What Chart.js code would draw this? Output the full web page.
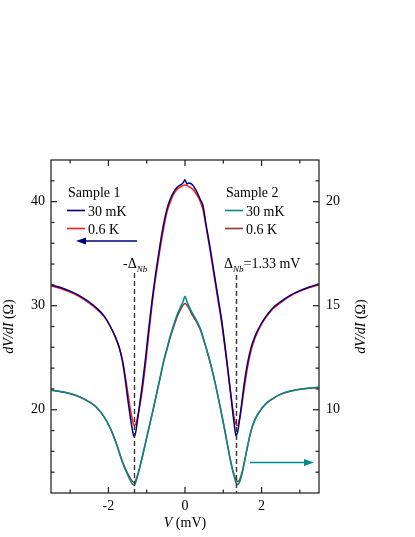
<!DOCTYPE html>
<html><head><meta charset="utf-8">
<script src="https://cdn.jsdelivr.net/npm/chart.js@4.4.1/dist/chart.umd.min.js"></script>
<style>html,body{margin:0;padding:0;background:#fff}#wrap{position:relative;width:415px;height:537px}</style>
</head><body><div id="wrap"><canvas id="c"></canvas></div>
<script>
// ---- data ----
const voltage = [-3.5,-3.25,-3.0,-2.75,-2.5,-2.3,-2.1,-1.95,-1.82,-1.72,-1.63,-1.55,-1.48,-1.42,-1.37,-1.33,-1.29,-1.24,-1.17,-1.1,-1.03,-0.95,-0.85,-0.75,-0.65,-0.55,-0.47,-0.4,-0.3,-0.2,-0.1,-0.05,
  0,
  0.05,0.1,0.2,0.3,0.4,0.47,0.55,0.65,0.75,0.85,0.95,1.03,1.1,1.17,1.24,1.29,1.33,1.37,1.42,1.48,1.55,1.63,1.72,1.82,1.95,2.1,2.3,2.5,2.75,3.0,3.25,3.5];

const sample1_30mK = [32.0,31.75,31.4,30.95,30.35,29.75,28.95,28.0,27.0,26.0,24.6,22.6,20.6,19.1,18.0,17.4,17.8,19.0,20.9,22.8,25.0,27.7,30.8,33.5,35.9,38.0,39.3,40.1,40.9,41.4,41.65,41.8,
  42.1,
  41.7,41.8,41.6,41.0,40.2,39.6,37.8,35.7,33.4,31.1,28.8,26.6,24.5,22.3,20.0,18.5,17.5,17.8,18.9,20.6,22.6,24.4,25.9,27.0,28.0,28.9,29.8,30.4,31.0,31.45,31.8,32.1];

const sample1_06K = [31.9,31.65,31.3,30.85,30.25,29.65,28.9,28.0,27.0,26.0,24.7,23.0,21.3,19.9,19.0,18.5,18.6,19.3,20.6,22.3,24.4,27.1,30.4,33.1,35.5,37.6,39.0,39.8,40.7,41.2,41.45,41.55,
  41.6,
  41.55,41.45,41.2,40.7,40.0,39.2,37.6,35.4,33.1,30.8,28.5,26.3,24.3,22.2,20.3,19.1,18.6,18.5,19.0,20.3,22.1,24.0,25.6,26.8,27.9,28.8,29.7,30.3,30.95,31.4,31.75,32.0];

const sample2_30mK = [10.95,10.88,10.78,10.62,10.38,10.1,9.62,9.1,8.5,7.95,7.45,7.08,6.8,6.58,6.42,6.38,6.5,6.8,7.3,7.85,8.42,9.07,9.87,10.7,11.55,12.4,12.95,13.45,14.05,14.6,15.0,15.2,
  15.45,
  15.2,14.98,14.62,14.3,13.9,13.5,13.0,12.35,11.6,10.75,9.85,9.1,8.4,7.7,7.1,6.75,6.5,6.4,6.5,6.85,7.45,8.2,8.95,9.5,9.92,10.27,10.55,10.75,10.9,10.99,11.04,11.08];

const sample2_06K = [10.94,10.87,10.77,10.61,10.37,10.1,9.62,9.11,8.52,7.98,7.5,7.14,6.88,6.68,6.55,6.52,6.6,6.86,7.33,7.86,8.42,9.06,9.85,10.68,11.52,12.36,12.9,13.38,13.96,14.48,14.88,15.03,
  15.1,
  15.03,14.88,14.52,14.22,13.85,13.46,12.97,12.32,11.58,10.74,9.85,9.1,8.42,7.74,7.16,6.84,6.62,6.55,6.62,6.93,7.5,8.22,8.95,9.5,9.91,10.26,10.54,10.74,10.89,10.98,11.03,11.07];

const xMajorTicks = [-2, 0, 2];
const xMinorTicks = [-3, -1, 1, 3];
const leftMajorTicks = [20, 30, 40];
const leftMinorTicks = [14, 16, 18, 22, 24, 26, 28, 32, 34, 36, 38, 42];
const rightMajorTicks = [10, 15, 20];
const rightMinorTicks = [7, 8, 9, 11, 12, 13, 14, 16, 17, 18, 19, 21];
const gapVoltage = 1.33;

// ---- styles ----
const FONT = '"Liberation Serif", "Times New Roman", serif';
const AXIS = '#2a2a2a';
const C_BLUE = '#000080', C_RED = '#ff1a1a', C_TEAL = '#008b8b', C_DRED = '#a03030';

const pts = arr => voltage.map((v, i) => ({x: v, y: arr[i]}));

function rich(ctx, segs, x, y, align) {
  const fontOf = s => (s.it ? 'italic ' : '') + (s.sub ? '9px ' : '14px ') + FONT;
  let w = 0;
  segs.forEach(s => { ctx.font = fontOf(s); w += ctx.measureText(s.t).width; });
  let cx = align === 'center' ? x - w / 2 : x;
  ctx.textAlign = 'left'; ctx.textBaseline = 'alphabetic';
  segs.forEach(s => {
    ctx.font = fontOf(s);
    ctx.fillText(s.t, cx, y + (s.sub ? 3.5 : 0));
    cx += ctx.measureText(s.t).width;
  });
}

function arrow(ctx, x1, y1, x2, color) {
  ctx.strokeStyle = color; ctx.fillStyle = color; ctx.lineWidth = 1.5;
  const dir = Math.sign(x2 - x1);
  ctx.beginPath(); ctx.moveTo(x1, y1); ctx.lineTo(x2 - dir * 6, y1); ctx.stroke();
  ctx.beginPath(); ctx.moveTo(x2, y1); ctx.lineTo(x2 - dir * 10, y1 - 3.5); ctx.lineTo(x2 - dir * 10, y1 + 3.5); ctx.closePath(); ctx.fill();
}

const deco = {
  id: 'deco',
  afterDatasetsDraw(chart) {
    const {ctx, chartArea: a, scales: {x, y, y2}} = chart;
    ctx.save();
    // dashed gap lines
    ctx.strokeStyle = '#333'; ctx.lineWidth = 1.4; ctx.setLineDash([5, 3]);
    [-gapVoltage, gapVoltage].forEach((v, i) => {
      const px = Math.round(x.getPixelForValue(v)) + 0.5;
      ctx.beginPath(); ctx.moveTo(px, i === 0 ? 273 : 275); ctx.lineTo(px, a.bottom); ctx.stroke();
    });
    ctx.setLineDash([]);
    // frame
    ctx.strokeStyle = AXIS; ctx.lineWidth = 1.3;
    ctx.strokeRect(a.left, a.top, a.right - a.left, a.bottom - a.top);
    // inward ticks
    const line = (x1, y1, x2, y2_) => { ctx.beginPath(); ctx.moveTo(x1, y1); ctx.lineTo(x2, y2_); ctx.stroke(); };
    const drawX = (vals, len) => vals.forEach(v => { const p = x.getPixelForValue(v); line(p, a.bottom, p, a.bottom - len); line(p, a.top, p, a.top + len); });
    const drawL = (vals, len) => vals.forEach(v => { const p = y.getPixelForValue(v); line(a.left, p, a.left + len, p); });
    const drawR = (vals, len) => vals.forEach(v => { const p = y2.getPixelForValue(v); line(a.right, p, a.right - len, p); });
    drawX(xMajorTicks, 6); drawX(xMinorTicks, 3.5);
    drawL(leftMajorTicks, 6); drawL(leftMinorTicks, 3.5);
    drawR(rightMajorTicks, 6); drawR(rightMinorTicks, 3.5);

    ctx.fillStyle = '#000';
    // legends
    rich(ctx, [{t: 'Sample 1'}], 68, 197);
    rich(ctx, [{t: 'Sample 2'}], 226, 197);
    const legLine = (x1, yy, c) => { ctx.strokeStyle = c; ctx.lineWidth = 1.6; line(x1, yy, x1 + 18, yy); };
    legLine(67, 210.5, C_BLUE); legLine(67, 228.5, C_RED);
    legLine(225, 210.5, C_TEAL); legLine(225, 228.5, C_DRED);
    ctx.fillStyle = '#000';
    rich(ctx, [{t: '30 mK'}], 88, 215.5);
    rich(ctx, [{t: '0.6 K'}], 88, 233.5);
    rich(ctx, [{t: '30 mK'}], 246, 215.5);
    rich(ctx, [{t: '0.6 K'}], 246, 233.5);
    // gap labels
    rich(ctx, [{t: '-Δ'}, {t: 'Nb', it: true, sub: true}], 123, 268);
    rich(ctx, [{t: 'Δ'}, {t: 'Nb', it: true, sub: true}, {t: '=1.33 mV'}], 224, 268);
    // arrows
    arrow(ctx, 137, 241, 76, C_BLUE);
    arrow(ctx, 250, 462.5, 314, C_TEAL);
    // axis titles
    ctx.fillStyle = '#000';
    const ytitle = [{t: 'dV/dI', it: true}, {t: ' (Ω)'}];
    ctx.save(); ctx.translate(13, (a.top + a.bottom) / 2); ctx.rotate(-Math.PI / 2); rich(ctx, ytitle, 0, 0, 'center'); ctx.restore();
    ctx.save(); ctx.translate(365, (a.top + a.bottom) / 2); ctx.rotate(-Math.PI / 2); rich(ctx, ytitle, 0, 0, 'center'); ctx.restore();
    rich(ctx, [{t: 'V', it: true}, {t: ' (mV)'}], (a.left + a.right) / 2, 527, 'center');
    ctx.restore();
  }
};

Chart.defaults.font.family = FONT;
Chart.defaults.font.size = 14;
Chart.defaults.color = '#000';

const ds = (label, arr, color, axis, order) => ({
  label, data: pts(arr), borderColor: color, backgroundColor: color, borderWidth: 1.5,
  pointRadius: 0, cubicInterpolationMode: 'monotone', yAxisID: axis, order
});

const tickOpts = (pad) => ({padding: pad, font: {size: 14, family: FONT}, color: '#000'});

new Chart(document.getElementById('c'), {
  type: 'line',
  data: {
    datasets: [
      ds('Sample 2, 30 mK', sample2_30mK, C_TEAL, 'y2', 0),
      ds('Sample 1, 30 mK', sample1_30mK, C_BLUE, 'y', 1),
      ds('Sample 1, 0.6 K', sample1_06K, C_RED, 'y', 2),
      ds('Sample 2, 0.6 K', sample2_06K, C_DRED, 'y2', 3)
    ]
  },
  options: {
    responsive: true, maintainAspectRatio: false, animation: false,
    layout: {padding: {top: 160, left: 0, right: 0, bottom: 0}},
    plugins: {legend: {display: false}, tooltip: {enabled: false}},
    scales: {
      x: {
        type: 'linear', position: 'bottom', min: -3.5, max: 3.5,
        afterBuildTicks: s => { s.ticks = xMajorTicks.map(v => ({value: v})); },
        ticks: tickOpts(5),
        grid: {display: false, drawTicks: false}, border: {display: false},
        afterFit: s => { s.height = 44; }
      },
      y: {
        type: 'linear', position: 'left', min: 12, max: 44,
        afterBuildTicks: s => { s.ticks = leftMajorTicks.map(v => ({value: v})); },
        ticks: tickOpts(6),
        grid: {display: false, drawTicks: false}, border: {display: false},
        afterFit: s => { s.width = 51; }
      },
      y2: {
        type: 'linear', position: 'right', min: 6, max: 22,
        afterBuildTicks: s => { s.ticks = rightMajorTicks.map(v => ({value: v})); },
        ticks: tickOpts(7),
        grid: {display: false, drawTicks: false}, border: {display: false},
        afterFit: s => { s.width = 96; }
      }
    }
  },
  plugins: [deco]
});
</script>
</body></html>
